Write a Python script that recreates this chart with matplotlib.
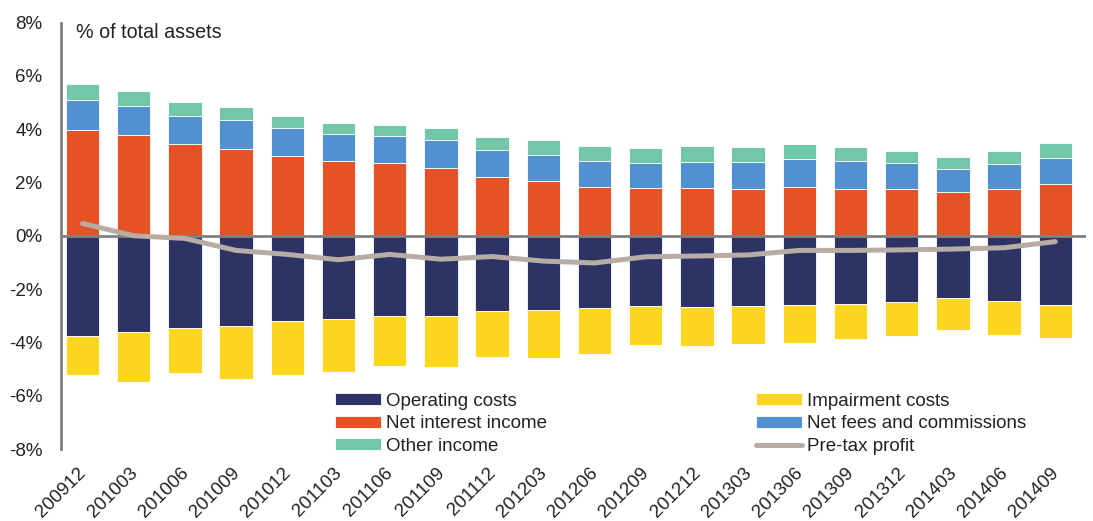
import matplotlib
matplotlib.use("Agg")
import matplotlib.pyplot as plt
import matplotlib.transforms as mtransforms
import numpy as np

plt.rcParams['font.family'] = ['Liberation Sans', 'DejaVu Sans']

periods = ["200912", "201003", "201006", "201009", "201012", "201103", "201106",
           "201109", "201112", "201203", "201206", "201209", "201212", "201303",
           "201306", "201309", "201312", "201403", "201406", "201409"]

net_interest_income = [3.95, 3.77, 3.45, 3.27, 2.99, 2.80, 2.73, 2.55, 2.20, 2.05,
                       1.84, 1.78, 1.80, 1.75, 1.82, 1.77, 1.74, 1.63, 1.77, 1.96]
net_fees = [1.14, 1.10, 1.05, 1.07, 1.04, 1.01, 1.02, 1.05, 1.02, 0.98,
            0.96, 0.95, 0.97, 1.02, 1.06, 1.03, 0.99, 0.86, 0.91, 0.95]
other_income = [0.60, 0.56, 0.51, 0.48, 0.46, 0.42, 0.40, 0.44, 0.50, 0.55,
                0.55, 0.56, 0.58, 0.55, 0.58, 0.53, 0.45, 0.46, 0.50, 0.57]
operating_costs = [-3.76, -3.62, -3.45, -3.37, -3.19, -3.11, -3.02, -3.00, -2.83, -2.77,
                   -2.70, -2.65, -2.67, -2.63, -2.61, -2.55, -2.50, -2.33, -2.46, -2.61]
impairment_costs = [-1.47, -1.86, -1.69, -1.99, -2.03, -2.02, -1.85, -1.94, -1.71, -1.81,
                    -1.72, -1.45, -1.47, -1.44, -1.41, -1.34, -1.27, -1.19, -1.27, -1.22]
pretax_profit = [0.46, 0.00, -0.10, -0.55, -0.70, -0.90, -0.70, -0.88, -0.78, -0.95,
                 -1.02, -0.79, -0.76, -0.72, -0.55, -0.55, -0.53, -0.50, -0.45, -0.22]

c_opex = '#2E3366'
c_nii = '#E55225'
c_fees = '#5291CF'
c_other = '#71C7AA'
c_imp = '#FDD620'
c_line = '#B8ADA4'
txt = '#222222'

W, H = 1093, 521
fig = plt.figure(figsize=(W / 100, H / 100), dpi=100)
ax = fig.add_axes([60.5 / W, 72 / H, (1086 - 60.5) / W, (449 - 22.5) / H])

x = np.arange(len(periods))
nii = np.array(net_interest_income)
fees = np.array(net_fees)
oth = np.array(other_income)
opx = np.array(operating_costs)
imp = np.array(impairment_costs)

bw = 0.65
ekw = dict(edgecolor='white', linewidth=0.6)
b_opx = ax.bar(x, opx, bw, color=c_opex, **ekw)
b_imp = ax.bar(x, imp, bw, bottom=opx, color=c_imp, **ekw)
b_nii = ax.bar(x, nii, bw, color=c_nii, **ekw)
b_fees = ax.bar(x, fees, bw, bottom=nii, color=c_fees, **ekw)
b_oth = ax.bar(x, oth, bw, bottom=nii + fees, color=c_other, **ekw)

ax.axhline(0, color='#808080', linewidth=2, zorder=3)
ln, = ax.plot(x, pretax_profit, color=c_line, linewidth=3.6, solid_capstyle='round',
              zorder=4)

ax.set_xlim(-0.43, 19.6)
ax.set_ylim(-8, 8)
ax.set_yticks(np.arange(-8, 9, 2))
ax.set_yticklabels([f"{v}%" for v in range(-8, 9, 2)])
ax.set_xticks(x)
ax.set_xticklabels(periods, rotation=45, ha='right', rotation_mode='default')
ax.tick_params(axis='both', length=0, labelsize=13.5, labelcolor=txt)
ax.tick_params(axis='y', pad=13)
ax.tick_params(axis='x', pad=11)

shift = mtransforms.ScaledTranslation(7 / 100, 0, fig.dpi_scale_trans)
for lab in ax.get_xticklabels():
    lab.set_transform(lab.get_transform() + shift)

for s in ['top', 'right', 'bottom']:
    ax.spines[s].set_visible(False)
ax.spines['left'].set_color('#808080')
ax.spines['left'].set_linewidth(2)

ax.text(16 / (1086 - 60.5), 1 - (33 - 22.5) / (449 - 22.5), "% of total assets",
        transform=ax.transAxes, fontsize=14.2, color=txt, va='center', ha='left')

handles = [b_opx, b_nii, b_oth, b_imp, b_fees, ln]
labels = ["Operating costs", "Net interest income", "Other income",
          "Impairment costs", "Net fees and commissions", "Pre-tax profit"]
leg = fig.legend(handles, labels, ncol=2, loc='upper left',
                 bbox_to_anchor=(335 / W, 1 - 393 / H), frameon=False,
                 fontsize=13.5, handlelength=2.45, handleheight=0.6,
                 handletextpad=0.28, labelspacing=0.29, columnspacing=11.15,
                 borderpad=0, borderaxespad=0)
for t in leg.get_texts():
    t.set_color(txt)

fig.savefig("out.png", dpi=100)
